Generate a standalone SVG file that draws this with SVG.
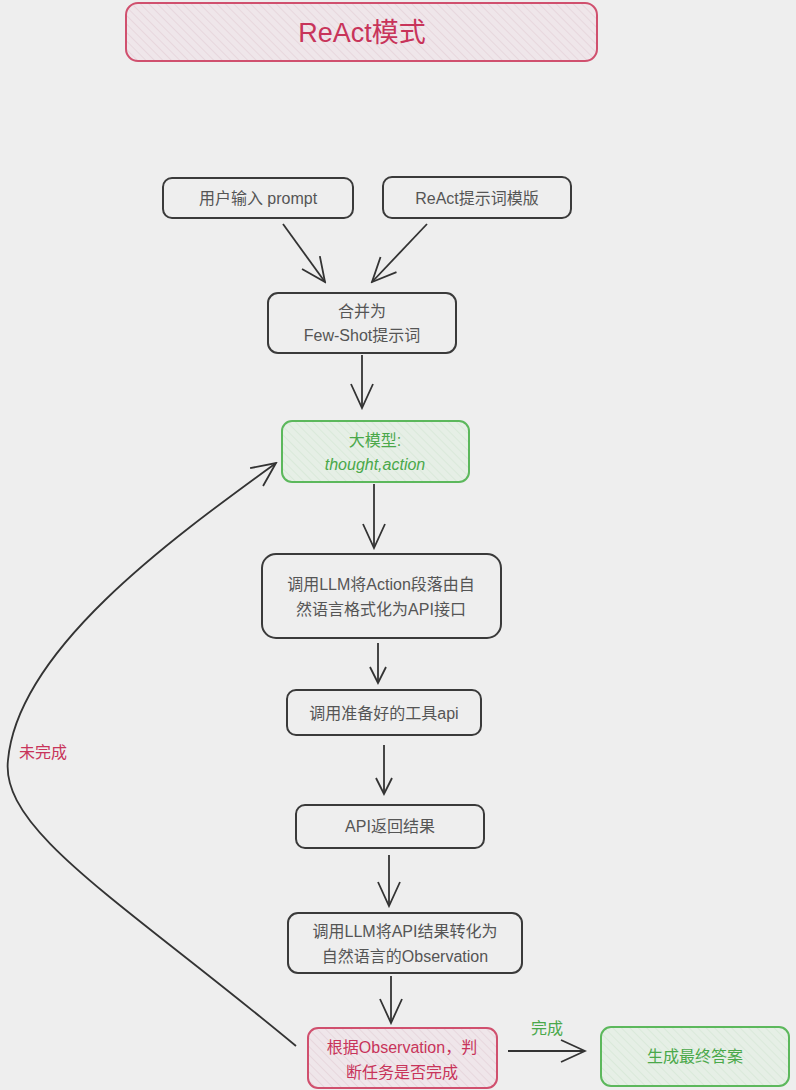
<svg xmlns="http://www.w3.org/2000/svg" width="796" height="1090" viewBox="0 0 796 1090">
<defs>
<pattern id="hR" width="6" height="6" patternUnits="userSpaceOnUse" patternTransform="rotate(-45)"><rect width="6" height="6" fill="#efe6ea"/><line x1="0" y1="0" x2="0" y2="6" stroke="#e2cdd5" stroke-width="1.2"/></pattern>
<pattern id="hG" width="6" height="6" patternUnits="userSpaceOnUse" patternTransform="rotate(-45)"><rect width="6" height="6" fill="#e6efe6"/><line x1="0" y1="0" x2="0" y2="6" stroke="#d2e6d2" stroke-width="1.2"/></pattern>
<marker id="ah" viewBox="0 0 20 20" refX="18" refY="10" markerWidth="20" markerHeight="20" markerUnits="userSpaceOnUse" orient="auto"><path d="M2 2 L18 10 L2 18" fill="none" stroke="#333" stroke-width="1.8"/></marker>
<marker id="ahL" viewBox="0 0 28 28" refX="26" refY="14" markerWidth="28" markerHeight="28" markerUnits="userSpaceOnUse" orient="auto"><path d="M2 3 L26 14 L2 25" fill="none" stroke="#333" stroke-width="1.8"/></marker>
</defs>
<style>
.n{fill:none;stroke:#3a3a3a;stroke-width:2}
.r{fill:url(#hR);stroke:#d0506e;stroke-width:2}
.g{fill:url(#hG);stroke:#5cb85c;stroke-width:2}
.t{font-family:"Liberation Sans","Noto Sans CJK SC",sans-serif;font-size:16px;fill:#555;text-anchor:middle}
.tr{fill:#c8345a}
.tg{fill:#4aa84a}
.c{fill:none;stroke:#333;stroke-width:1.8}
</style>
<rect width="796" height="1090" fill="#eeeeee"/>
<g id="title"><rect class="r" x="126" y="3" width="471" height="58" rx="12"/><text class="t tr" x="362" y="42" style="font-size:27px">ReAct模式</text></g>
<g id="n1"><rect class="n" x="163" y="178" width="190" height="40" rx="9"/><text class="t" x="258" y="204">用户输入 prompt</text></g>
<g id="n2"><rect class="n" x="383" y="177" width="188" height="41" rx="9"/><text class="t" x="477" y="204">ReAct提示词模版</text></g>
<g id="n3"><rect class="n" x="268" y="293" width="188" height="60" rx="10"/><text class="t" x="362" y="317">合并为</text><text class="t" x="362" y="341">Few-Shot提示词</text></g>
<g id="n4"><rect class="g" x="282" y="421" width="187" height="61" rx="10"/><text class="t tg" x="375" y="446">大模型:</text><text class="t tg" x="375" y="470" style="font-style:italic">thought,action</text></g>
<g id="n5"><rect class="n" x="262" y="554" width="239" height="84" rx="14"/><text class="t" x="381" y="590">调用LLM将Action段落由自</text><text class="t" x="381" y="615">然语言格式化为API接口</text></g>
<g id="n6"><rect class="n" x="287" y="690" width="194" height="45" rx="9"/><text class="t" x="384" y="719">调用准备好的工具api</text></g>
<g id="n7"><rect class="n" x="296" y="805" width="188" height="43" rx="9"/><text class="t" x="390" y="832">API返回结果</text></g>
<g id="n8"><rect class="n" x="288" y="913" width="234" height="60" rx="10"/><text class="t" x="405" y="937">调用LLM将API结果转化为</text><text class="t" x="405" y="962">自然语言的Observation</text></g>
<g id="n9"><rect class="r" x="308" y="1028" width="189" height="60" rx="10"/><text class="t tr" x="402" y="1053">根据Observation，判</text><text class="t tr" x="402" y="1078">断任务是否完成</text></g>
<g id="n10"><rect class="g" x="601" y="1027" width="188" height="59" rx="10"/><text class="t tg" x="695" y="1062">生成最终答案</text></g>
<g id="connectors">
<line class="c" x1="283" y1="224" x2="325" y2="282" marker-end="url(#ahL)"/>
<line class="c" x1="427" y1="224" x2="372" y2="282" marker-end="url(#ahL)"/>
<line class="c" x1="362" y1="355" x2="362" y2="408" marker-end="url(#ahL)"/>
<line class="c" x1="374" y1="484" x2="374" y2="548" marker-end="url(#ahL)"/>
<line class="c" x1="378" y1="643" x2="378" y2="683" marker-end="url(#ah)"/>
<line class="c" x1="384" y1="745" x2="384" y2="794" marker-end="url(#ah)"/>
<line class="c" x1="389" y1="855" x2="389" y2="906" marker-end="url(#ahL)"/>
<line class="c" x1="391" y1="976" x2="391" y2="1023" marker-end="url(#ahL)"/>
<line class="c" x1="508" y1="1051" x2="585" y2="1051" marker-end="url(#ahL)"/>
<path class="c" d="M296 1046 C120 900 0 830 8 760 C18 650 170 540 276 463" marker-end="url(#ahL)"/>
<text class="t tg" x="547" y="1034">完成</text>
<text class="t tr" x="43" y="758">未完成</text>
</g>
</svg>
